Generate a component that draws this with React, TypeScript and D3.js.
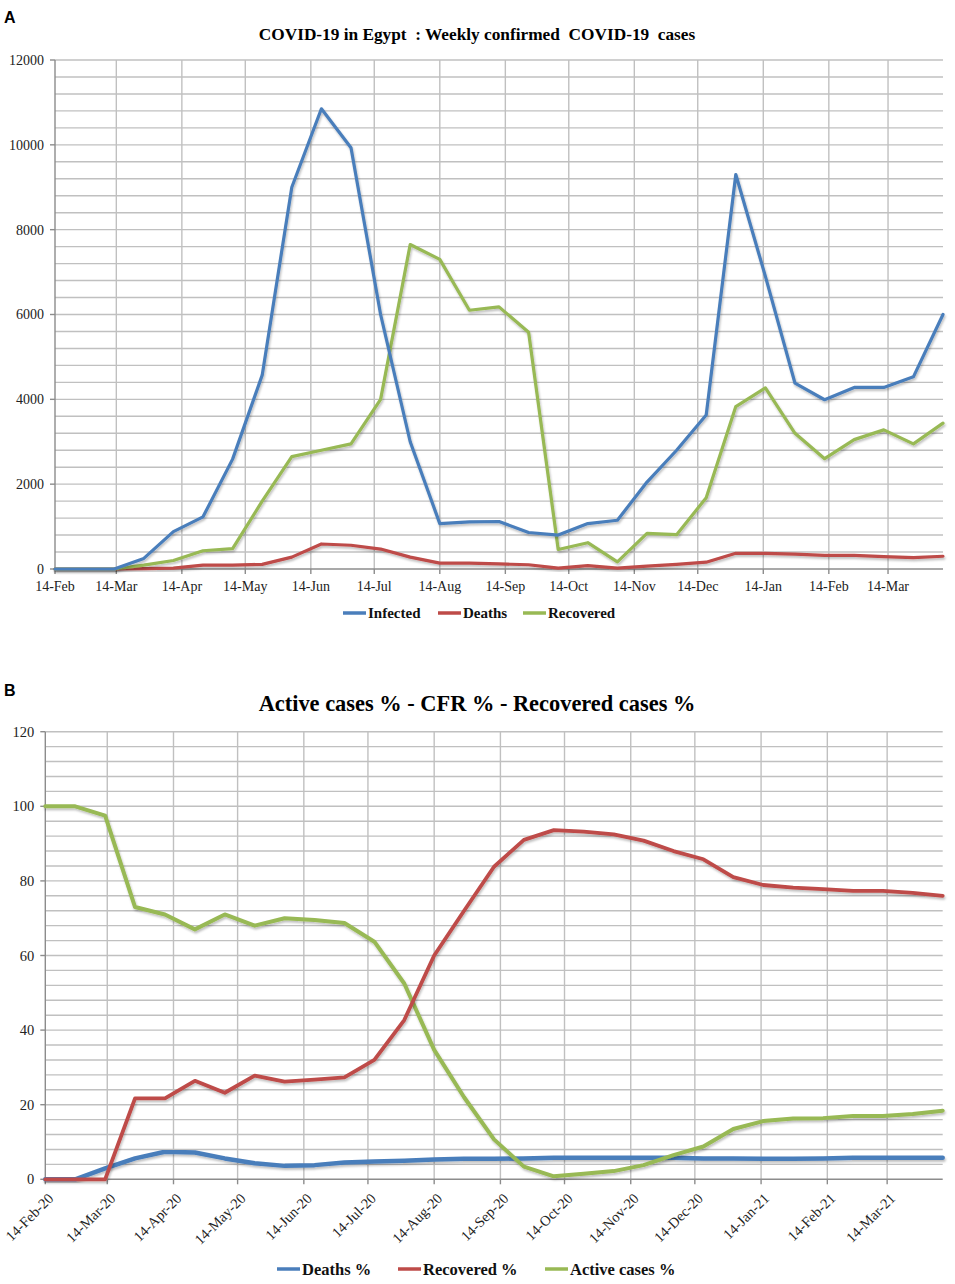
import React from 'react';
import * as d3 from 'd3';

// biweekly observation dates (shared by both panels)
const DATES = [
  '2020-02-14', '2020-02-28', '2020-03-13', '2020-03-27', '2020-04-10', '2020-04-24',
  '2020-05-08', '2020-05-22', '2020-06-05', '2020-06-19', '2020-07-03', '2020-07-17',
  '2020-07-31', '2020-08-14', '2020-08-28', '2020-09-11', '2020-09-25', '2020-10-09',
  '2020-10-23', '2020-11-06', '2020-11-20', '2020-12-04', '2020-12-18', '2021-01-01',
  '2021-01-15', '2021-01-29', '2021-02-12', '2021-02-26', '2021-03-12', '2021-03-26',
  '2021-04-09',
];

// Panel A - weekly confirmed cases
const INFECTED = [0, 0, 0, 250, 880, 1230, 2590, 4570, 9000, 10850, 9930, 6000, 3000, 1070, 1110,
  1120, 860, 800, 1070, 1150, 2050, 2800, 3630, 9300, 6900, 4380, 3990, 4280, 4280, 4530, 6000];
const DEATHS = [0, 0, 0, 10, 20, 90, 90, 110, 280, 590, 560, 470, 280, 140, 140,
  120, 100, 20, 80, 20, 70, 110, 160, 370, 370, 350, 320, 320, 290, 270, 300];
const RECOVERED = [0, 0, 0, 90, 200, 430, 480, 1600, 2650, 2800, 2950, 4000, 7650, 7300, 6100,
  6180, 5580, 460, 620, 170, 840, 810, 1680, 3830, 4270, 3200, 2600, 3050, 3280, 2950, 3440];

// Panel B - percentages
const DEATHS_PCT = [0, 0, 2.9, 5.6, 7.4, 7.2, 5.6, 4.3, 3.6, 3.8, 4.5, 4.8, 5.0, 5.3, 5.5,
  5.5, 5.6, 5.8, 5.8, 5.8, 5.8, 5.8, 5.6, 5.6, 5.5, 5.5, 5.6, 5.8, 5.8, 5.8, 5.8];
const RECOVERED_PCT = [0, 0, 0, 21.7, 21.7, 26.4, 23.2, 27.8, 26.2, 26.7, 27.3, 32, 42.7, 60, 72,
  83.8, 91, 93.6, 93.2, 92.5, 90.8, 88, 85.8, 81, 78.9, 78.2, 77.8, 77.3, 77.3, 76.8, 76];
const ACTIVE_PCT = [100, 100, 97.5, 73, 71, 67, 71, 68, 70, 69.5, 68.7, 63.7, 52.5, 34.7, 22,
  10.7, 3.4, 0.8, 1.5, 2.2, 3.8, 6.5, 8.8, 13.5, 15.6, 16.3, 16.4, 17, 17, 17.5, 18.4];

const MONTH_TICKS = [
  '2020-02-14', '2020-03-14', '2020-04-14', '2020-05-14', '2020-06-14', '2020-07-14',
  '2020-08-14', '2020-09-14', '2020-10-14', '2020-11-14', '2020-12-14', '2021-01-14',
  '2021-02-14', '2021-03-14',
];
const A_YTICKS = [0, 2000, 4000, 6000, 8000, 10000, 12000];
const B_YTICKS = [0, 20, 40, 60, 80, 100, 120];

const BLUE = '#4a7ebb';
const RED = '#be4b48';
const GREEN = '#98b954';
const GRID = '#c0c0c0';
const AXIS = '#8c8c8c';
const SERIF = '"Liberation Serif", "Times New Roman", serif';

const parse = d3.timeParse('%Y-%m-%d');
const dates = DATES.map((d) => parse(d) as Date);
const ticks = MONTH_TICKS.map((d) => parse(d) as Date);

const Panel: React.FC<{
  x0: number; x1: number; yTop: number; yBot: number;
  yMax: number; gridStep: number; yTicks: number[];
  series: { values: number[]; color: string; width: number }[];
  rotated: boolean; fontSize: number;
}> = ({ x0, x1, yTop, yBot, yMax, gridStep, yTicks, series, rotated, fontSize }) => {
  const x = d3.scaleTime().domain([dates[0], dates[dates.length - 1]]).range([x0, x1]);
  const y = d3.scaleLinear().domain([0, yMax]).range([yBot, yTop]);
  const grid = d3.range(gridStep, yMax + 0.001, gridStep);
  const fmt = d3.timeFormat(rotated ? '%d-%b-%y' : '%d-%b');
  const line = d3.line<number>().x((_, i) => x(dates[i])).y((v) => y(v));

  return (
    <g>
      {grid.map((g) => (
        <line key={'h' + g} x1={x0} x2={x1} y1={y(g)} y2={y(g)} stroke={GRID} strokeWidth={1.4} />
      ))}
      {ticks.slice(1).map((t) => (
        <line key={'v' + +t} x1={x(t)} x2={x(t)} y1={yTop} y2={yBot} stroke={GRID} strokeWidth={1.4} />
      ))}
      <line x1={x0} x2={x0} y1={yTop} y2={yBot} stroke={AXIS} strokeWidth={1.4} />
      <line x1={x0} x2={x1} y1={yBot} y2={yBot} stroke={AXIS} strokeWidth={1.4} />
      {yTicks.map((v) => (
        <g key={'yt' + v}>
          <line x1={x0 - 5} x2={x0} y1={y(v)} y2={y(v)} stroke={AXIS} strokeWidth={1.4} />
          <text x={x0 - 11} y={y(v)} dy="0.35em" textAnchor="end" fontFamily={SERIF}
            fontSize={fontSize} fill="#222">{v}</text>
        </g>
      ))}
      {ticks.map((t) => (
        <g key={'xt' + +t}>
          <line x1={x(t)} x2={x(t)} y1={yBot} y2={yBot + 5} stroke={AXIS} strokeWidth={1.4} />
          {rotated ? (
            <text transform={`translate(${x(t) + 9},${yBot + 20}) rotate(-45)`} textAnchor="end"
              fontFamily={SERIF} fontSize={fontSize} fill="#222">{fmt(t)}</text>
          ) : (
            <text x={x(t)} y={yBot + 22} textAnchor="middle" fontFamily={SERIF}
              fontSize={fontSize} fill="#222">{fmt(t)}</text>
          )}
        </g>
      ))}
      {series.map((s, i) => (
        <path key={i} d={line(s.values) || ''} fill="none" stroke={s.color} strokeWidth={s.width}
          strokeLinejoin="round" strokeLinecap="round" filter="url(#shadow)" />
      ))}
    </g>
  );
};

const Legend: React.FC<{ items: { label: string; color: string; x: number }[]; y: number; size: number }> = ({ items, y, size }) => (
  <g>
    {items.map((it) => (
      <g key={it.label}>
        <line x1={it.x} x2={it.x + 23} y1={y} y2={y} stroke={it.color} strokeWidth={3.5} />
        <text x={it.x + 25} y={y} dy="0.35em" fontFamily={SERIF} fontWeight="bold" fontSize={size} fill="#111">
          {it.label}
        </text>
      </g>
    ))}
  </g>
);

export default function App() {
  return (
    <svg width={955} height={1284} viewBox="0 0 955 1284"
      style={{ position: 'absolute', left: 0, top: 0, background: '#fff' }}>
      <defs>
        <filter id="shadow" x="-5%" y="-5%" width="110%" height="115%">
          <feDropShadow dx="1" dy="2" stdDeviation="1.2" floodColor="#000" floodOpacity="0.25" />
        </filter>
      </defs>
      <rect width={955} height={1284} fill="#fff" />

      <text x={4} y={23} fontFamily='"Liberation Sans", Arial, sans-serif' fontWeight="bold" fontSize={16}>A</text>
      <text x={477} y={40} textAnchor="middle" fontFamily={SERIF} fontWeight="bold" fontSize={17.3}
        style={{ whiteSpace: 'pre' }}>{'COVID-19 in Egypt  : Weekly confirmed  COVID-19  cases'}</text>
      <Panel x0={55} x1={943} yTop={60} yBot={569} yMax={12000} gridStep={400} yTicks={A_YTICKS}
        rotated={false} fontSize={14}
        series={[
          { values: DEATHS, color: RED, width: 3.2 },
          { values: RECOVERED, color: GREEN, width: 3.2 },
          { values: INFECTED, color: BLUE, width: 3.2 },
        ]} />
      <Legend y={613} size={15} items={[
        { label: 'Infected', color: BLUE, x: 343 },
        { label: 'Deaths', color: RED, x: 438 },
        { label: 'Recovered', color: GREEN, x: 523 },
      ]} />

      <text x={4} y={696} fontFamily='"Liberation Sans", Arial, sans-serif' fontWeight="bold" fontSize={16}>B</text>
      <text x={477} y={711} textAnchor="middle" fontFamily={SERIF} fontWeight="bold" fontSize={22.4}>
        Active cases % - CFR % - Recovered cases %
      </text>
      <Panel x0={45.3} x1={942.7} yTop={731.7} yBot={1179.3} yMax={120} gridStep={4} yTicks={B_YTICKS}
        rotated={true} fontSize={14.5}
        series={[
          { values: DEATHS_PCT, color: BLUE, width: 4.5 },
          { values: ACTIVE_PCT, color: GREEN, width: 4 },
          { values: RECOVERED_PCT, color: RED, width: 3.8 },
        ]} />
      <Legend y={1269} size={16.5} items={[
        { label: 'Deaths %', color: BLUE, x: 277 },
        { label: 'Recovered %', color: RED, x: 398 },
        { label: 'Active cases %', color: GREEN, x: 545 },
      ]} />
    </svg>
  );
}
